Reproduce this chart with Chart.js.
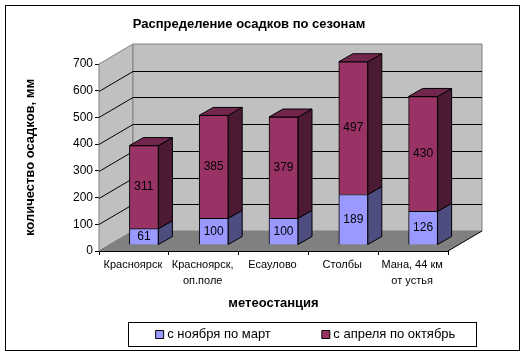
<!DOCTYPE html>
<html>
<head>
<meta charset="utf-8">
<style>
  html, body { margin: 0; padding: 0; background: #fff; }
  canvas { display: block; }
</style>
<script src="https://cdn.jsdelivr.net/npm/chart.js@4"></script>
</head>
<body>
<canvas id="chart" width="526" height="356"></canvas>
<script>
const categories = ['Красноярск', ['Красноярск,', 'оп.поле'], 'Есаулово', 'Столбы', ['Мана, 44 км', 'от устья']];
const winterValues = [61, 100, 100, 189, 126];
const summerValues = [311, 385, 379, 497, 430];
const seriesNames = ['с ноября по март', 'с апреля по октябрь'];
const yTicks = [0, 100, 200, 300, 400, 500, 600, 700];

const FONT = '"Liberation Sans", Arial, sans-serif';
// 3d look: depth of the box and of the bars, and how far bars sit from the front plane
const BOX_DX = 34, BOX_DY = -20;
const BAR_DX = 14, BAR_DY = -8;
const SHIFT_X = 10, SHIFT_Y = -6;
const LEGEND_PADDING = 54;

function poly(ctx, pts, fill, stroke) {
    ctx.beginPath();
    pts.forEach((p, i) => i ? ctx.lineTo(p[0], p[1]) : ctx.moveTo(p[0], p[1]));
    ctx.closePath();
    if (fill) {
        ctx.fillStyle = fill;
        ctx.fill();
    }
    if (stroke) {
        ctx.strokeStyle = stroke;
        ctx.lineWidth = 1;
        ctx.stroke();
    }
}

function line(ctx, x1, y1, x2, y2, color) {
    ctx.beginPath();
    ctx.moveTo(x1, y1);
    ctx.lineTo(x2, y2);
    ctx.strokeStyle = color;
    ctx.lineWidth = 1;
    ctx.stroke();
}

const excelLook = {
    id: 'excelLook',
    afterLayout(chart) {
        // title and legend are not centred on the canvas in the original
        chart.titleBlock.left = 99;
        chart.titleBlock.right = 399;
        chart.legend.left = 90;
        chart.legend.right = 524;
        chart.legend.top = 328 - LEGEND_PADDING;
        chart.legend.bottom = 346;
    },
    beforeDraw(chart) {
        const ctx = chart.ctx;
        ctx.save();
        ctx.strokeStyle = '#000';
        ctx.lineWidth = 1;
        ctx.strokeRect(5.5, 5.5, 514, 345);
        ctx.strokeRect(128.5, 322.5, 348, 24);
        ctx.restore();
    },
    beforeDatasetsDraw(chart) {
        const ctx = chart.ctx;
        const a = chart.chartArea;
        const y = chart.scales.y;
        const l = a.left, r = a.right, t = a.top, b = a.bottom;
        ctx.save();
        // walls and floor
        poly(ctx, [[l, t], [l + BOX_DX, t + BOX_DY], [l + BOX_DX, b + BOX_DY], [l, b]], '#c0c0c0', '#808080');
        poly(ctx, [[l + BOX_DX, t + BOX_DY], [r + BOX_DX, t + BOX_DY], [r + BOX_DX, b + BOX_DY], [l + BOX_DX, b + BOX_DY]], '#c0c0c0', '#808080');
        poly(ctx, [[l, b], [l + BOX_DX, b + BOX_DY], [r + BOX_DX, b + BOX_DY], [r, b]], '#808080', null);
        line(ctx, l, b, l + BOX_DX, b + BOX_DY, '#808080');
        line(ctx, r, b, r + BOX_DX, b + BOX_DY, '#000');
        // gridlines run across the side wall and the back wall
        yTicks.slice(1, -1).forEach(v => {
            const py = Math.round(y.getPixelForValue(v)) + 0.5;
            line(ctx, l, py, l + BOX_DX, py + BOX_DY, '#000');
            line(ctx, l + BOX_DX, py + BOX_DY, r + BOX_DX, py + BOX_DY, '#000');
        });
        // bar depth faces
        ctx.translate(SHIFT_X, SHIFT_Y);
        chart.data.datasets.forEach((ds, i) => {
            chart.getDatasetMeta(i).data.forEach(bar => {
                const x2 = bar.x + bar.width / 2;
                const x1 = bar.x - bar.width / 2;
                poly(ctx, [[x2, bar.y], [x2 + BAR_DX, bar.y + BAR_DY], [x2 + BAR_DX, bar.base + BAR_DY], [x2, bar.base]], ds.sideColor, '#000');
                if (i === chart.data.datasets.length - 1) {
                    poly(ctx, [[x1, bar.y], [x1 + BAR_DX, bar.y + BAR_DY], [x2 + BAR_DX, bar.y + BAR_DY], [x2, bar.y]], ds.topColor, '#000');
                }
            });
        });
        // left in translated state for the bars, restored in afterDatasetsDraw
    },
    afterDatasetsDraw(chart) {
        const ctx = chart.ctx;
        ctx.font = '12px ' + FONT;
        ctx.fillStyle = '#000';
        ctx.textAlign = 'center';
        ctx.textBaseline = 'middle';
        chart.data.datasets.forEach((ds, i) => {
            chart.getDatasetMeta(i).data.forEach((bar, j) => {
                ctx.fillText(String(ds.data[j]), bar.x, (bar.y + bar.base) / 2);
            });
        });
        ctx.restore();
    }
};

new Chart(document.getElementById('chart').getContext('2d'), {
    type: 'bar',
    plugins: [excelLook],
    data: {
        labels: categories,
        datasets: [
            {
                label: seriesNames[0],
                data: winterValues,
                backgroundColor: '#9999ff',
                sideColor: '#4d4d80',
                borderColor: '#000',
                borderWidth: 1,
                barThickness: 29
            },
            {
                label: seriesNames[1],
                data: summerValues,
                backgroundColor: '#993366',
                sideColor: '#4d1a33',
                topColor: '#73264d',
                borderColor: '#000',
                borderWidth: 1,
                barThickness: 29
            }
        ]
    },
    options: {
        responsive: false,
        animation: false,
        layout: {
            padding: { left: 23, right: 78, top: 0, bottom: 0 }
        },
        plugins: {
            title: {
                display: true,
                text: 'Распределение осадков по сезонам',
                color: '#000',
                font: { family: FONT, size: 13, weight: 'bold' },
                padding: { top: 17, bottom: 31.4 }
            },
            legend: {
                position: 'bottom',
                maxHeight: 33,
                labels: {
                    color: '#000',
                    font: { family: FONT, size: 13 },
                    usePointStyle: true,
                    pointStyle: 'rect',
                    boxWidth: 2,
                    boxHeight: 8,
                    padding: LEGEND_PADDING
                }
            },
            tooltip: { enabled: false }
        },
        scales: {
            x: {
                stacked: true,
                afterFit(scale) { scale.height = 72; },
                border: { color: '#000', width: 1 },
                grid: { drawOnChartArea: false, color: '#000', tickLength: 4, offset: true },
                ticks: {
                    color: '#000',
                    font: { family: FONT, size: 11, lineHeight: 1.45 },
                    maxRotation: 0,
                    autoSkip: false,
                    padding: 2,
                    labelOffset: -1
                },
                title: {
                    display: true,
                    text: 'метеостанция',
                    color: '#000',
                    font: { family: FONT, size: 13, weight: 'bold' },
                    padding: { top: 2, bottom: 12 }
                }
            },
            y: {
                stacked: true,
                min: 0,
                max: 700,
                afterFit(scale) { scale.width = 76; },
                afterBuildTicks(scale) { scale.ticks = yTicks.map(v => ({ value: v })); },
                border: { color: '#000', width: 1 },
                grid: { drawOnChartArea: false, color: '#000', tickLength: 4 },
                ticks: {
                    color: '#000',
                    font: { family: FONT, size: 12 },
                    padding: 2
                },
                title: {
                    display: true,
                    text: 'количество осадков, мм',
                    color: '#000',
                    font: { family: FONT, size: 13, weight: 'bold' },
                    padding: 0
                }
            }
        }
    }
});
</script>
</body>
</html>
